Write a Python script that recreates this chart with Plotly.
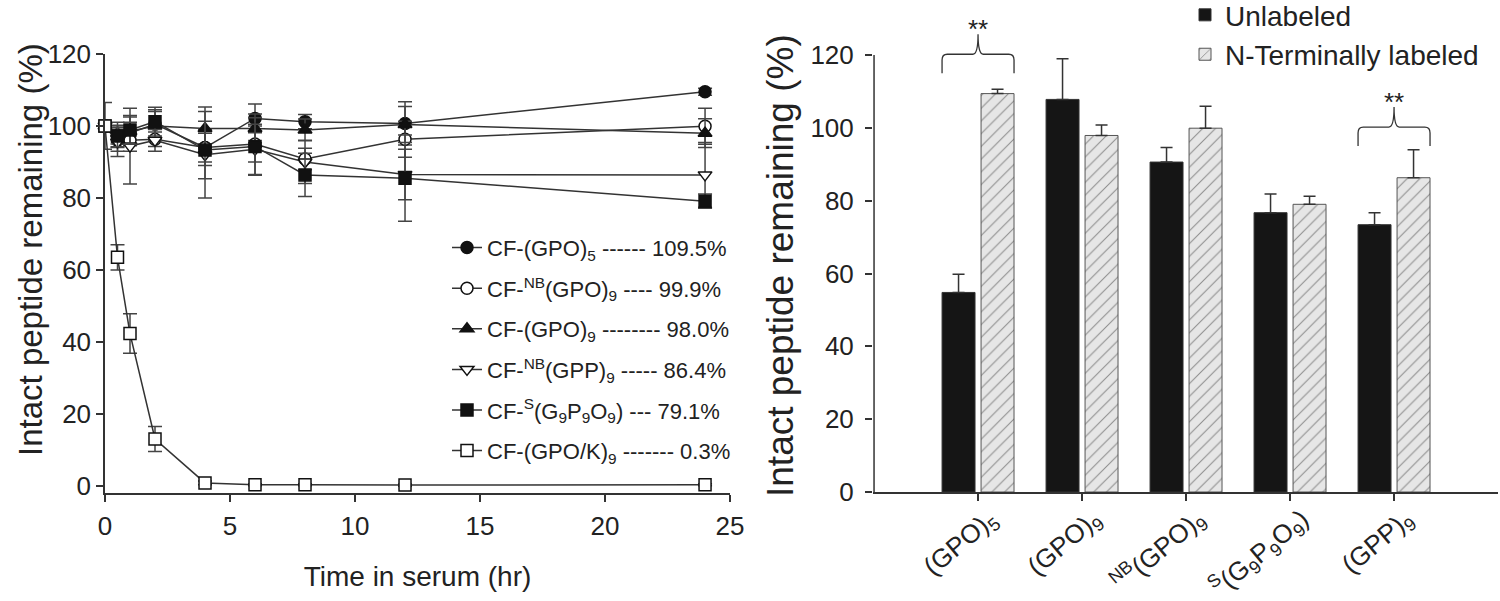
import plotly.graph_objects as go

# ---------------- Left panel data (time course) ----------------
time_hr = [0, 0.5, 1, 2, 4, 6, 8, 12, 24]

names_left = [
    "CF-(GPO)<sub>5</sub> ------ 109.5%",
    "CF-<sup>NB</sup>(GPO)<sub>9</sub> ---- 99.9%",
    "CF-(GPO)<sub>9</sub> -------- 98.0%",
    "CF-<sup>NB</sup>(GPP)<sub>9</sub> ----- 86.4%",
    "CF-<sup>S</sup>(G<sub>9</sub>P<sub>9</sub>O<sub>9</sub>) --- 79.1%",
    "CF-(GPO/K)<sub>9</sub> ------- 0.3%",
]

gpo5 = [100, 96.0, 98.0, 100.5, 94.0, 102.1, 101.2, 100.7, 109.5]
gpo5_err = [0, 3.0, 3.0, 4.0, 5.0, 4.0, 2.0, 6.0, 1.0]
nb_gpo9 = [100, 97.0, 96.0, 96.3, 94.0, 95.0, 90.8, 96.3, 99.9]
nb_gpo9_err = [0, 3.0, 3.0, 2.0, 4.0, 5.0, 3.0, 5.0, 5.0]
gpo9 = [100, 98.0, 98.5, 100.0, 99.3, 99.3, 98.9, 100.4, 98.0]
gpo9_err = [0, 3.0, 4.0, 4.0, 6.0, 4.0, 3.0, 5.0, 4.0]
nb_gpp9 = [100, 95.5, 94.4, 96.0, 92.0, 93.5, 90.0, 86.5, 86.4]
nb_gpp9_err = [0, 4.0, 10.5, 3.0, 12.0, 7.0, 6.0, 7.0, 9.0]
s_g9p9o9 = [100, 97.2, 98.9, 101.2, 93.3, 94.3, 86.4, 85.5, 79.1]
s_g9p9o9_err = [0, 3.0, 4.0, 4.0, 8.0, 8.0, 6.0, 12.0, 2.0]
gpo_k9 = [100, 63.5, 42.3, 13.0, 0.8, 0.3, 0.3, 0.2, 0.3]
gpo_k9_err = [6.5, 3.5, 5.5, 3.5, 0.5, 0.3, 0.3, 0.3, 0.3]

left_values = [gpo5, nb_gpo9, gpo9, nb_gpp9, s_g9p9o9, gpo_k9]
left_errors = [gpo5_err, nb_gpo9_err, gpo9_err, nb_gpp9_err, s_g9p9o9_err, gpo_k9_err]
left_symbols = ["circle", "circle", "triangle-up", "triangle-down", "square", "square"]
left_filled = [True, False, True, False, True, False]

left_xticks = [0, 5, 10, 15, 20, 25]
yticks = [0, 20, 40, 60, 80, 100, 120]

# ---------------- Right panel data (bar chart) ----------------
bar_pos = [0, 1, 2, 3, 4]
bar_labels = [
    "(GPO)<sub>5</sub>",
    "(GPO)<sub>9</sub>",
    "<sup>NB</sup>(GPO)<sub>9</sub>",
    "<sup>S</sup>(G<sub>9</sub>P<sub>9</sub>O<sub>9</sub>)",
    "(GPP)<sub>9</sub>",
]
unlabeled = [54.8, 107.8, 90.6, 76.7, 73.4]
unlabeled_err = [5.0, 11.2, 4.0, 5.1, 3.3]
labeled = [109.4, 97.9, 99.9, 79.0, 86.3]
labeled_err = [1.2, 2.9, 6.0, 2.2, 7.7]

sig_pairs = [0, 4]           # categories with significance braces
sig_brace_base = [115, 95]   # y level where brace ends sit
sig_text = ["**", "**"]

y_title = "Intact peptide remaining (%)"
x_title = "Time in serum (hr)"

FONT = "Liberation Sans, Arial, sans-serif"
INK = "#222222"

fig = go.Figure()

# ---- Left panel traces
for i, (name, vals, errs, sym, filled) in enumerate(
        zip(names_left, left_values, left_errors, left_symbols, left_filled)):
    fig.add_trace(go.Scatter(
        x=time_hr, y=vals, name=name, mode="lines+markers",
        xaxis="x", yaxis="y", legend="legend", legendgroup=f"g{i}", cliponaxis=False,
        line=dict(color="#333333", width=1.5),
        marker=dict(symbol=sym, size=12, color="#111111" if filled else "#ffffff",
                    line=dict(color="#111111", width=1.5)),
        error_y=dict(type="data", array=errs, visible=True, color="#444444", thickness=1.5, width=7),
    ))

# ---- Right panel traces
bar_w = 0.317
off_black = -0.346
off_hatch = 0.029
fig.add_trace(go.Bar(
    x=bar_pos, y=unlabeled, name="Unlabeled", xaxis="x2", yaxis="y2", legend="legend2",
    width=bar_w, offset=off_black,
    marker=dict(color="#151515", line=dict(color="#333333", width=1)),
    error_y=dict(type="data", array=unlabeled_err, arrayminus=[0] * 5, symmetric=False,
                 color="#333333", thickness=1.5, width=6),
))
fig.add_trace(go.Bar(
    x=bar_pos, y=labeled, name="N-Terminally labeled", xaxis="x2", yaxis="y2", legend="legend2",
    width=bar_w, offset=off_hatch,
    marker=dict(color="#e6e6e6", line=dict(color="#555555", width=1),
                pattern=dict(shape="/", size=9, solidity=0.12, fgcolor="#333333", bgcolor="#e6e6e6")),
    error_y=dict(type="data", array=labeled_err, arrayminus=[0] * 5, symmetric=False,
                 color="#333333", thickness=1.5, width=6),
))

# ---- Braces and significance marks (computed from bar geometry)
shapes = []
annotations = []
for cat, base, txt in zip(sig_pairs, sig_brace_base, sig_text):
    x0 = cat + off_black
    x1 = cat + off_hatch + bar_w
    xm = (x0 + x1) / 2
    yh = base + 5.2
    yp = yh + 5.5
    r = 0.05
    c = 1.6
    path = (f"M{x0},{base} L{x0},{yh - c} Q{x0},{yh} {x0 + r},{yh} "
            f"L{xm - r},{yh} Q{xm},{yh} {xm},{yp} Q{xm},{yh} {xm + r},{yh} "
            f"L{x1 - r},{yh} Q{x1},{yh} {x1},{yh - c} L{x1},{base}")
    shapes.append(dict(type="path", path=path, xref="x2", yref="y2",
                       line=dict(color="#333333", width=1.3)))
    annotations.append(dict(x=xm, y=yh + 6.9, xref="x2", yref="y2", text=txt, showarrow=False,
                            yanchor="middle", font=dict(family=FONT, size=26, color=INK)))

# right y-axis line only up to 120
shapes.append(dict(type="line", xref="x2", yref="y2", x0=-1, x1=-1, y0=0, y1=120,
                   line=dict(color="#333333", width=1.5)))

# y-axis titles as rotated text
annotations.append(dict(x=30 / 1500, y=1 - 250 / 493, xref="paper", yref="paper", text=y_title,
                        textangle=-90, showarrow=False, xanchor="center", yanchor="middle",
                        font=dict(family=FONT, size=33, color=INK)))
annotations.append(dict(x=780 / 1500, y=1 - 266 / 493, xref="paper", yref="paper", text=y_title,
                        textangle=-90, showarrow=False, xanchor="center", yanchor="middle",
                        font=dict(family=FONT, size=37, color=INK)))

axis_common = dict(showgrid=False, zeroline=False, ticks="outside", ticklen=7, tickwidth=1.5,
                   tickcolor="#333333", linecolor="#333333", linewidth=1.5, automargin=False,
                   tickfont=dict(family=FONT, size=26, color=INK))

fig.update_layout(
    width=1500, height=601,
    margin=dict(l=0, r=0, t=0, b=108, autoexpand=False),
    paper_bgcolor="white", plot_bgcolor="white",
    font=dict(family=FONT, color=INK),
    barmode="overlay",
    xaxis=dict(domain=[0.07, 0.4867], range=[0, 25], tickvals=left_xticks, showline=True,
               ticklabelstandoff=2,
               title=dict(text=x_title, font=dict(family=FONT, size=28, color=INK), standoff=26),
               anchor="y", **axis_common),
    yaxis=dict(domain=[0, 0.8905], range=[-2, 120], tickvals=yticks, showline=True,
               anchor="x", **axis_common),
    xaxis2=dict(domain=[0.582, 0.9987], range=[-1.01, 5], tickvals=bar_pos, ticktext=bar_labels,
                tickangle=-40, showline=True, anchor="y2", ticklabelshift=12, ticklabelstandoff=-7,
                **{k: v for k, v in axis_common.items() if k != "tickfont"},
                tickfont=dict(family=FONT, size=26, color=INK)),
    yaxis2=dict(domain=[0.002, 1], range=[0, 135.1], tickvals=yticks, showline=False,
                ticklabelstandoff=6, anchor="x2", **axis_common),
    legend=dict(x=0.298, y=0.54, xanchor="left", yanchor="top", bgcolor="rgba(0,0,0,0)",
                font=dict(family=FONT, size=22, color=INK), tracegroupgap=9, traceorder="grouped"),
    legend2=dict(x=0.79, y=1.02, xanchor="left", yanchor="top", bgcolor="rgba(0,0,0,0)",
                 font=dict(family=FONT, size=28, color=INK)),
    shapes=shapes,
    annotations=annotations,
    showlegend=True,
)

fig.write_html("out.html", config={"displayModeBar": False},
               post_script="document.body.style.margin='0';document.body.style.overflow='hidden';")
